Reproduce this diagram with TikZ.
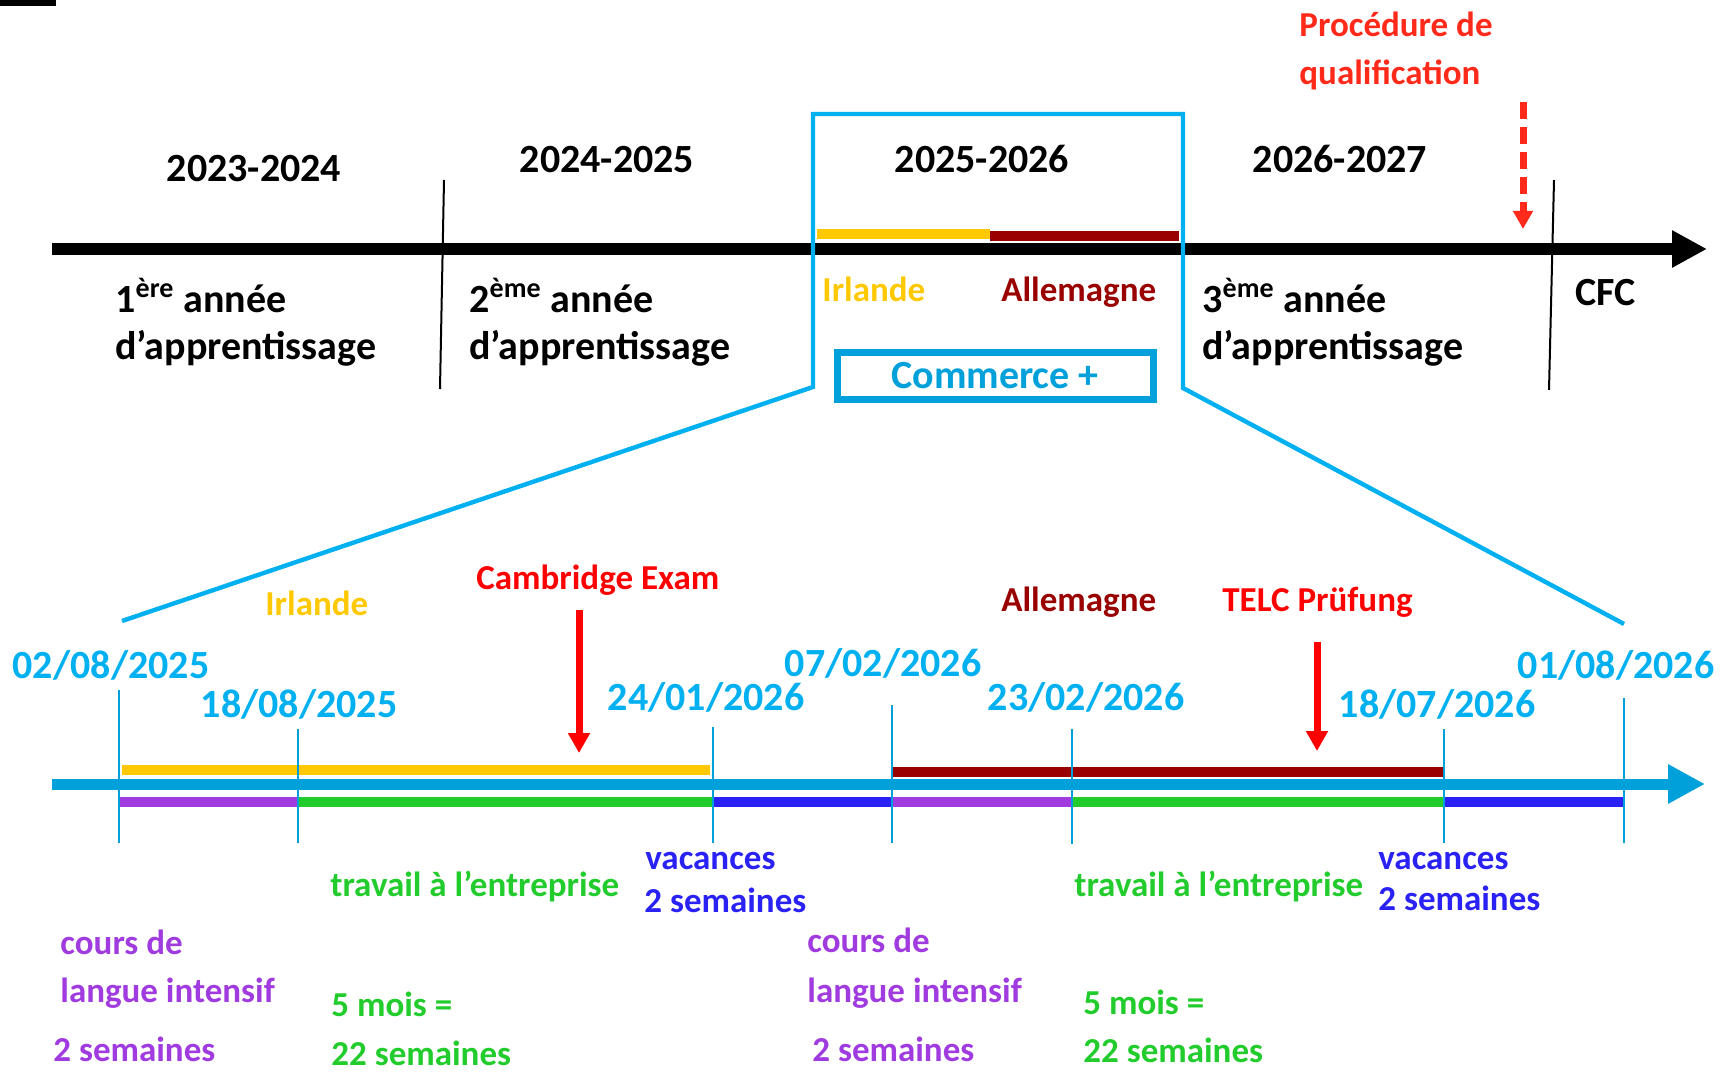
\documentclass[tikz,border=0pt]{standalone}
\usepackage{fontspec}
\setmainfont{Carlito}
\usetikzlibrary{arrows.meta}

\definecolor{cyanline}{HTML}{00B0F0}
\definecolor{axisblue}{HTML}{00A0DA}
\definecolor{irl}{HTML}{FFC800}
\definecolor{allem}{HTML}{990000}
\definecolor{cours}{HTML}{A03BE0}
\definecolor{travail}{HTML}{22CC2C}
\definecolor{vac}{HTML}{2A22F5}
\definecolor{examred}{HTML}{FF0000}
\definecolor{qpred}{HTML}{FF2A1A}

\tikzset{
  big/.style={font=\fontsize{20}{24}\selectfont\bfseries, inner sep=0pt},
  small/.style={font=\fontsize{17.5}{21}\selectfont\bfseries, inner sep=0pt},
  lbl/.style={anchor=base west},
  ctr/.style={anchor=base},
  seg/.style={line width=5pt},
  tickline/.style={line width=1pt, axisblue},
  exam/.style={examred, line width=3.5pt, -{Triangle[length=10pt,width=10.5pt]}},
}

\begin{document}
\begin{tikzpicture}[x=0.5pt, y=-0.5pt]
  \useasboundingbox (0,0) rectangle (1729,1074);
  \fill (0,0) rectangle (56,6);

  % Upper time line
  \coordinate (topstart) at (52,249);
  \coordinate (topend) at (1707,249);
  \draw[line width=6pt, -{Triangle[length=17.5pt,width=17.5pt]}] (topstart) -- (topend);

  \draw[line width=1pt] (444,180) -- (440,389);
  \draw[line width=1pt] (1554,180) -- (1549,390);

  \node[big, ctr] (y1) at (254,182) {2023-2024};
  \node[big, ctr] (y2) at (607,173) {2024-2025};
  \node[big, ctr] (y3) at (982,173) {2025-2026};
  \node[big, ctr] (y4) at (1340,173) {2026-2027};

  \node[big, lbl] (a1top) at (115,313) {1\textsuperscript{ère} année};
  \node[big, lbl] (a1bot) at (115,360) {d’apprentissage};
  \node[big, lbl] (a2top) at (469,313) {2\textsuperscript{ème} année};
  \node[big, lbl] (a2bot) at (469,360) {d’apprentissage};
  \node[big, lbl] (a3top) at (1202,313) {3\textsuperscript{ème} année};
  \node[big, lbl] (a3bot) at (1202,360) {d’apprentissage};
  \node[big, lbl] (cfc) at (1575,306) {CFC};

  % Procedure de qualification
  \node[small, lbl, qpred] (pqtop) at (1299,37) {Procédure de};
  \node[small, lbl, qpred] (pqbot) at (1299,85) {qualification};
  \coordinate (qstart) at (1523,102);
  \coordinate (qtip) at (1523,229);
  \draw[qpred, line width=3.5pt, dash pattern=on 8.5pt off 4pt,
    -{Triangle[length=9pt,width=9.5pt]}] (qstart) -- (qtip);

  % Stays abroad (upper)
  \draw[seg, irl] (817,234) -- (990,234);
  \draw[seg, allem] (990,236) -- (1179,236);
  \node[small, lbl, irl] (irltop) at (822,302) {Irlande};
  \node[small, lbl, allem] (alltop) at (1001,302) {Allemagne};

  \node[big, draw=axisblue, text=axisblue, line width=3.5pt,
    minimum width=158pt, minimum height=23.5pt] (commerce) at (995,376) {Commerce +};

  % Zoom frame
  \coordinate (zoomleft) at (122,621);
  \coordinate (zoomright) at (1624,624);
  \draw[cyanline, line width=2.2pt] (zoomleft) -- (813,387) -- (813,114)
    -- (1183,114) -- (1183,388) -- (zoomright);

  % Lower time line
  \coordinate (lowstart) at (52,784);
  \coordinate (lowend) at (1705,784);
  \draw[axisblue, line width=5.5pt, -{Triangle[length=18.5pt,width=18.5pt]}] (lowstart) -- (lowend);

  \draw[seg, irl] (122,770) -- (710,770);
  \draw[seg, allem] (892,772) -- (1443,772);

  \draw[seg, cours] (119,802) -- (299,802);
  \draw[seg, travail] (299,802) -- (713,802);
  \draw[seg, vac] (713,802) -- (892,802);
  \draw[seg, cours] (892,802) -- (1072,802);
  \draw[seg, travail] (1072,802) -- (1444,802);
  \draw[seg, vac] (1444,802) -- (1624,802);

  \draw[tickline] (119,690) -- (119,843);
  \draw[tickline] (298,729) -- (298,843);
  \draw[tickline] (713,727) -- (713,843);
  \draw[tickline] (892,705) -- (892,843);
  \draw[tickline] (1072,729) -- (1072,844);
  \draw[tickline] (1444,729) -- (1444,843);
  \draw[tickline] (1624,698) -- (1624,843);

  % Dates
  \node[big, ctr, cyanline] (d1) at (111,678) {02/08/2025};
  \node[big, ctr, cyanline] (d2) at (299,717) {18/08/2025};
  \node[big, ctr, cyanline] (d3) at (706,710) {24/01/2026};
  \node[big, ctr, cyanline] (d4) at (883,676) {07/02/2026};
  \node[big, ctr, cyanline] (d5) at (1086,710) {23/02/2026};
  \node[big, ctr, cyanline] (d6) at (1437,717) {18/07/2026};
  \node[big, ctr, cyanline] (d7) at (1616,678) {01/08/2026};

  % Stays abroad (lower)
  \node[small, lbl, irl] (irlbot) at (265,616) {Irlande};
  \node[small, lbl, allem] (allbot) at (1001,611) {Allemagne};
  \node[small, lbl, examred] (cambridge) at (476,589) {Cambridge Exam};
  \node[small, lbl, examred] (telc) at (1222,611) {TELC Prüfung};
  \coordinate (camstart) at (579,610);
  \coordinate (camtip) at (579,753);
  \coordinate (telcstart) at (1317,642);
  \coordinate (telctip) at (1317,751);
  \draw[exam] (camstart) -- (camtip);
  \draw[exam] (telcstart) -- (telctip);

  % Periods
  \node[small, lbl, cours] (c1top) at (60,954) {cours de};
  \node[small, lbl, cours] (c1bot) at (60,1002) {langue intensif};
  \node[small, lbl, cours] (c1dur) at (53,1061) {2 semaines};
  \node[small, lbl, cours] (c2top) at (807,952) {cours de};
  \node[small, lbl, cours] (c2bot) at (807,1002) {langue intensif};
  \node[small, lbl, cours] (c2dur) at (812,1061) {2 semaines};

  \node[small, lbl, travail] (t1) at (330,896) {travail à l’entreprise};
  \node[small, lbl, travail] (t1top) at (331,1016) {5 mois =};
  \node[small, lbl, travail] (t1dur) at (331,1065) {22 semaines};
  \node[small, lbl, travail] (t2) at (1074,896) {travail à l’entreprise};
  \node[small, lbl, travail] (t2top) at (1083,1014) {5 mois =};
  \node[small, lbl, travail] (t2dur) at (1083,1062) {22 semaines};

  \node[small, lbl, vac] (v1) at (645,869) {vacances};
  \node[small, lbl, vac] (v1dur) at (644,912) {2 semaines};
  \node[small, lbl, vac] (v2) at (1378,869) {vacances};
  \node[small, lbl, vac] (v2dur) at (1378,910) {2 semaines};
\end{tikzpicture}
\end{document}
